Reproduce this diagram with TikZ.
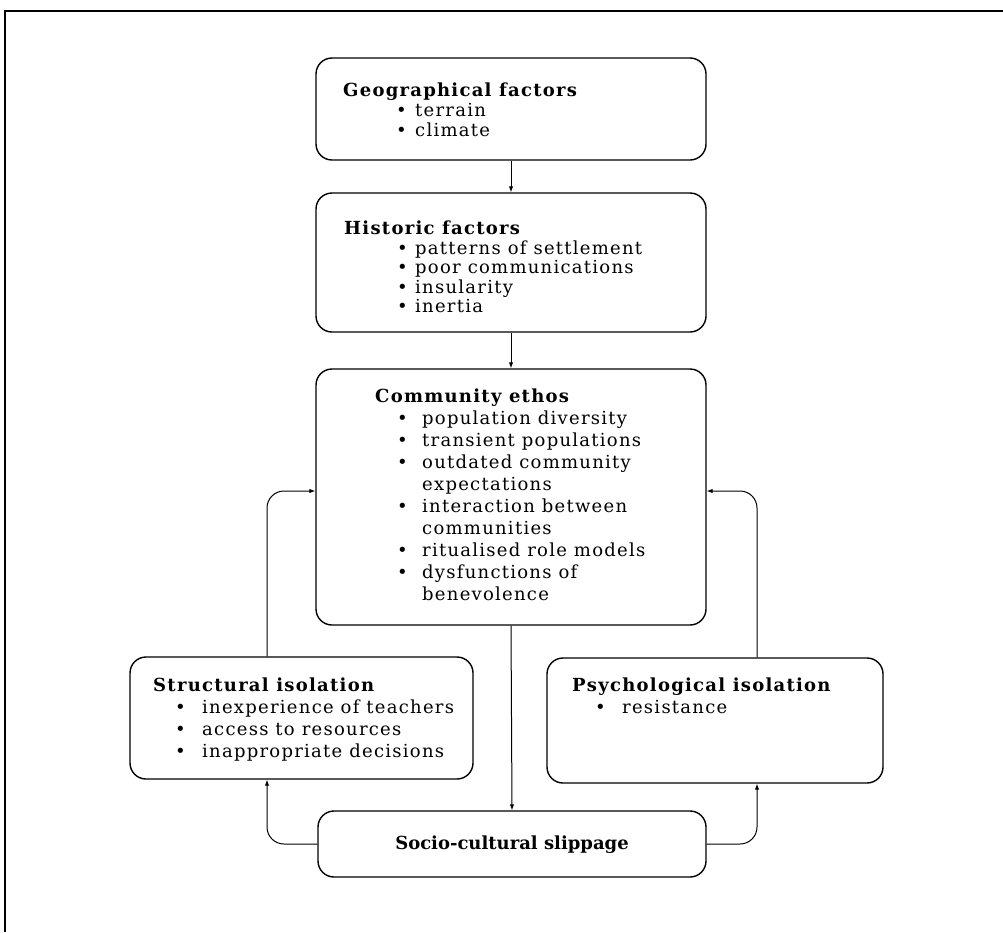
\documentclass[tikz,border=0pt]{standalone}
\usepackage{fontspec}
\setmainfont[LetterSpace=7]{DejaVu Serif}
\newfontfamily\plainserif{DejaVu Serif}
\usetikzlibrary{arrows.meta}
\newcommand{\bul}[2]{\hspace*{#1pt}\makebox[#2pt][l]{\textbullet}}
\tikzset{
  box/.style={draw, line width=1.4pt, rounded corners=16pt, inner sep=0pt},
  txt/.style={anchor=north west, inner sep=0pt, align=left},
  conn/.style={line width=1pt, rounded corners=17pt, -{Latex[length=6pt,width=4.5pt]}},
  frame/.style={line width=1.1pt}
}
\begin{document}
\begin{tikzpicture}[x=1pt,y=-1pt]
\useasboundingbox (0,0) rectangle (1003,932);
% partial outer frame (top and left edges)
\draw[frame] (1003,11) -- (5,11) -- (5,932);

% boxes
\node[box, minimum width=390pt, minimum height=102pt] (geo) at (511,109) {};
\node[box, minimum width=390pt, minimum height=139pt] (hist) at (511,262.5) {};
\node[box, minimum width=390pt, minimum height=256pt] (comm) at (511,497) {};
\node[box, minimum width=343pt, minimum height=122pt] (struct) at (301.5,718) {};
\node[box, minimum width=336pt, minimum height=125pt] (psych) at (715,720.5) {};
\node[box, minimum width=388pt, minimum height=66pt] (socio) at (512,844) {};

% texts
\node[txt, font={\fontsize{18}{20}\selectfont}] (geoT) at (343,83) {%
\textbf{Geographical factors}\\
\bul{53}{19}terrain\\
\bul{53}{19}climate};

\node[txt, font={\fontsize{18}{19.5}\selectfont}] (histT) at (344,221) {%
\textbf{Historic factors}\\
\bul{53}{18}patterns of settlement\\
\bul{53}{18}poor communications\\
\bul{53}{18}insularity\\
\bul{53}{18}inertia};

\node[txt, font={\fontsize{18}{22}\selectfont}] (commT) at (375,389) {%
\textbf{Community ethos}\\
\bul{22}{25}population diversity\\
\bul{22}{25}transient populations\\
\bul{22}{25}outdated community\\
\hspace*{47pt}expectations\\
\bul{22}{25}interaction between\\
\hspace*{47pt}communities\\
\bul{22}{25}ritualised role models\\
\bul{22}{25}dysfunctions of\\
\hspace*{47pt}benevolence};

\node[txt, font={\fontsize{18}{22}\selectfont}] (structT) at (153,678) {%
\textbf{Structural isolation}\\
\bul{22}{27}inexperience of teachers\\
\bul{22}{27}access to resources\\
\bul{22}{27}inappropriate decisions};

\node[txt, font={\fontsize{18}{22}\selectfont}] (psychT) at (572,678) {%
\textbf{Psychological isolation}\\
\bul{23}{27}resistance};

\node[font={\plainserif\fontsize{18}{22}\selectfont\bfseries}, inner sep=0pt] (socioT) at (512,845) {Socio-cultural slippage};

% bend points of the side loops
\coordinate (cl) at (267,491);
\coordinate (cr) at (757,491);

% connectors
\draw[conn] (geo.south) -- (hist.north);
\draw[conn] (hist.south) -- (comm.north);
\draw[conn] (comm.south) -- (socio.north);
\draw[conn] (cl |- struct.north) -- (cl) -- (cl -| comm.west);
\draw[conn] (cr |- psych.north) -- (cr) -- (cr -| comm.east);
\draw[conn] (socio.west) -| (cl |- struct.south);
\draw[conn] (socio.east) -| (cr |- psych.south);
\end{tikzpicture}
\end{document}
